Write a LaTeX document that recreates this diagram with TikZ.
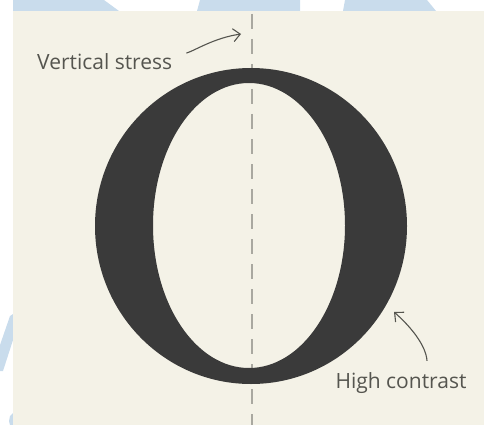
\documentclass[tikz,border=0pt]{standalone}
\usepackage{fontspec}
\newfontfamily\handfont{Open Sans}
\usetikzlibrary{arrows.meta}

\definecolor{paper}{HTML}{F4F2E7}
\definecolor{watermark}{HTML}{C9DCEC}
\definecolor{ink}{HTML}{3A3A3A}
\definecolor{pencil}{HTML}{55554F}
\definecolor{guideline}{HTML}{A9A8A0}

\begin{document}
\begin{tikzpicture}[
  x=1pt, y=-1pt,
  note/.style={
    font=\handfont\fontsize{21}{21}\selectfont,
    text=pencil,
    inner sep=0pt
  },
  fleche/.style={
    -{Straight Barb[length=7pt, width=13pt]},
    line width=1.1pt,
    draw=pencil
  },
  axe/.style={
    draw=guideline,
    line width=1.3pt,
    dash pattern=on 15pt off 10pt,
    dash phase=22pt
  },
  glyph/.style={
    fill=ink,
    even odd rule
  }
]
  \useasboundingbox (0,0) rectangle (484,425);

  % blue shapes peeking out round the page
  \fill[watermark] (13,0) -- (104,0) -- (119,11) -- (13,11) -- cycle;
  \fill[watermark] (200,0) -- (300,0) -- (300,11) -- (197,11) -- cycle;
  \fill[watermark] (345,0) -- (427,0) -- (436,11) -- (343,11) -- cycle;
  \fill[watermark] (10,316) -- (13,314) -- (13,340) -- (3,371) -- (0,371) -- (0,345) -- cycle;
  \fill[watermark] (13,413) -- (10,416) -- (9,421) -- (10,425) -- (13,425) -- cycle;

  % page
  \fill[paper] (13,11) rectangle (484,425);

  % axis of the letter, then the letter
  \draw[axe] (252,11) -- (252,425);
  \fill[glyph] (251,226) ellipse [x radius=156, y radius=158]
               (249,225.5) ellipse [x radius=96, y radius=142.5];

  % labels
  \node[note, anchor=base west] (stress) at (37,70) {Vertical stress};
  \node[note, anchor=base] (contrast) at (401,388) {High contrast};
  \coordinate (stressTip) at (241,34);
  \coordinate (contrastTip) at (394,312);

  \draw[fleche] ([shift={(14,-9)}]stress.east)
    .. controls (196,50) and (214,38) .. (stressTip);
  \draw[fleche] ([xshift=26pt, yshift=11pt]contrast.north)
    .. controls (426,345) and (410,326) .. (contrastTip);
\end{tikzpicture}
\end{document}
